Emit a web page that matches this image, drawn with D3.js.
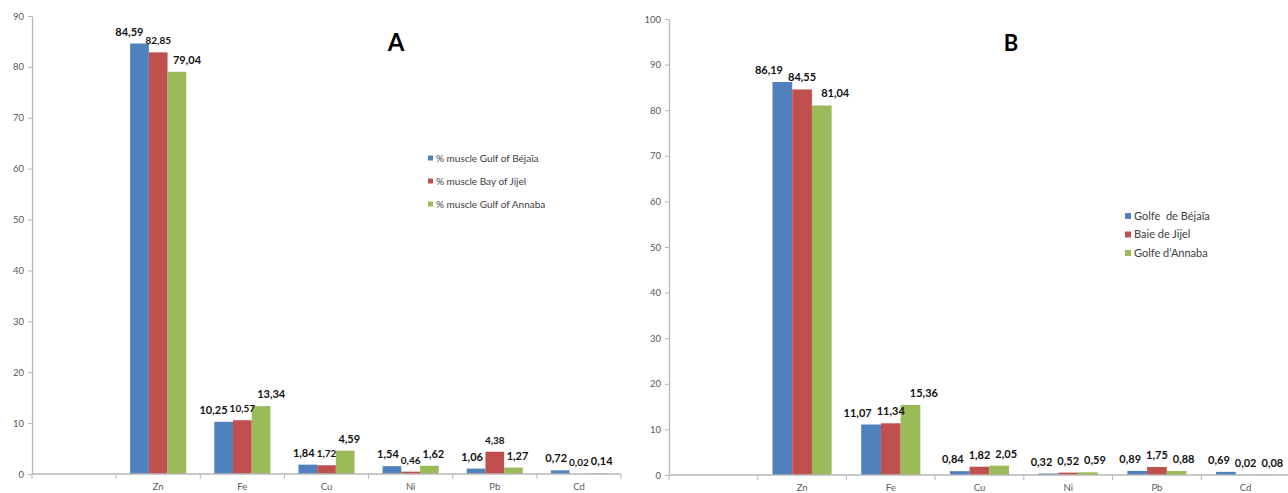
<!DOCTYPE html>
<html>
<head>
<meta charset="utf-8">
<script src="https://cdn.jsdelivr.net/npm/d3@7"></script>
<style>
  html, body { margin: 0; padding: 0; background: #fff; }
  svg { display: block; font-family: Lato, "Open Sans", sans-serif; }
</style>
</head>
<body>
<svg id="chart" width="1288" height="493"></svg>
<script>
// ---------- DATA ----------
const categories = ["", "Zn", "Fe", "Cu", "Ni", "Pb", "Cd"];

const seriesNamesA = ["% muscle Gulf of Béjaïa", "% muscle Bay of Jijel", "% muscle Gulf of Annaba"];
const valuesA_Bejaia = [null, 84.59, 10.25, 1.84, 1.54, 1.06, 0.72];
const valuesA_Jijel  = [null, 82.85, 10.57, 1.72, 0.46, 4.38, 0.02];
const valuesA_Annaba = [null, 79.04, 13.34, 4.59, 1.62, 1.27, 0.14];
const ticksA = [0, 10, 20, 30, 40, 50, 60, 70, 80, 90];

const seriesNamesB = ["Golfe  de Béjaïa", "Baie de Jijel", "Golfe d\u2019Annaba"];
const valuesB_Bejaia = [null, 86.19, 11.07, 0.84, 0.32, 0.89, 0.69];
const valuesB_Jijel  = [null, 84.55, 11.34, 1.82, 0.52, 1.75, 0.02];
const valuesB_Annaba = [null, 81.04, 15.36, 2.05, 0.59, 0.88, 0.08];
const ticksB = [0, 10, 20, 30, 40, 50, 60, 70, 80, 90, 100];

const colors = ["#4f81bd", "#c0504d", "#9bbb59"];

// ---------- DRAW ----------
const svg = d3.select("#chart");
svg.append("rect").attr("width", 1288).attr("height", 493).attr("fill", "#fff");

const fmt = v => d3.format(".2f")(v).replace(".", ",");

function panel(cfg) {
  const g = svg.append("g");
  const x = d3.scaleBand().domain(categories).range([cfg.x0, cfg.x1]).paddingInner(0).paddingOuter(0);
  const y = d3.scaleLinear().domain([0, cfg.ymax]).range([cfg.yBottom, cfg.yTop]);
  const bw = x.bandwidth() / 4.5;
  const xs = d3.scaleBand().domain([0, 1, 2]).range([0.75 * bw, 3.75 * bw]).padding(0);

  // Y axis
  const yAxis = d3.axisLeft(y).tickValues(cfg.ticks).tickSize(4).tickSizeOuter(0).tickPadding(4);
  const ya = g.append("g").attr("transform", `translate(${cfg.x0},0)`).call(yAxis);
  ya.select(".domain").attr("stroke", "#b7b7b7").attr("stroke-width", 1.3);
  ya.selectAll(".tick line").attr("stroke", "#b7b7b7");
  ya.selectAll(".tick text").attr("fill", "#595959").attr("font-size", 9.5)
    .attr("font-family", "Lato, sans-serif");

  // Bars
  const data = [];
  cfg.series.forEach((vals, si) => {
    vals.forEach((v, ci) => {
      if (v === null) return;
      data.push({ cat: categories[ci], s: si, v });
    });
  });
  g.selectAll("rect.bar").data(data).enter().append("rect")
    .attr("class", "bar")
    .attr("x", d => x(d.cat) + xs(d.s))
    .attr("width", xs.bandwidth())
    .attr("y", d => y(d.v))
    .attr("height", d => y(0) - y(d.v))
    .attr("fill", d => colors[d.s]);

  // X axis (category)
  const xa = g.append("g").attr("transform", `translate(0,${cfg.yBottom})`);
  xa.append("line").attr("x1", cfg.x0).attr("x2", cfg.x1).attr("y1", 0).attr("y2", 0)
    .attr("stroke", "#b7b7b7").attr("stroke-width", 1.3);
  const bounds = categories.map(c => x(c)).concat([cfg.x1]);
  xa.selectAll("line.tk").data(bounds).enter().append("line")
    .attr("x1", d => d).attr("x2", d => d).attr("y1", 0).attr("y2", 5)
    .attr("stroke", "#b7b7b7");
  xa.selectAll("text").data(categories).enter().append("text")
    .attr("x", d => x(d) + x.bandwidth() / 2)
    .attr("y", 16)
    .attr("text-anchor", "middle")
    .attr("fill", "#595959").attr("font-size", 9.5)
    .text(d => d);

  // Data labels
  const lab = g.selectAll("text.lab").data(data).enter().append("text")
    .attr("class", "lab")
    .attr("text-anchor", "middle")
    .attr("font-weight", "bold")
    .attr("font-size", d => cfg.labelSizes[d.s])
    .attr("fill", "#111")
    .text(d => fmt(d.v));
  // positions with simple overlap-avoidance inside each category group
  const items = [];
  lab.each(function (d) {
    items.push({
      node: this, d,
      cx: x(d.cat) + xs(d.s) + xs.bandwidth() / 2,
      by: y(d.v) - 8,
      w: this.getComputedTextLength(),
      h: 20
    });
  });
  categories.forEach(c => {
    const grp = items.filter(it => it.d.cat === c).sort((a, b) => a.d.s - b.d.s);
    for (let iter = 0; iter < 30; iter++) {
      for (let i = 0; i < grp.length; i++) {
        for (let j = i + 1; j < grp.length; j++) {
          const a = grp[i], b = grp[j];
          if (Math.abs(a.by - b.by) >= a.h) continue;
          const need = (a.w + b.w) / 2 + cfg.gap;
          const dist = b.cx - a.cx;
          if (dist < need) {
            const p = (need - dist) / 2;
            a.cx -= p; b.cx += p;
          }
        }
      }
    }
  });
  items.forEach(it => d3.select(it.node).attr("x", it.cx).attr("y", it.by));

  // Title
  g.append("text").attr("x", cfg.titleX).attr("y", 51)
    .attr("text-anchor", "middle").attr("font-weight", "bold")
    .attr("font-size", cfg.titleSize).attr("fill", "#000")
    .text(cfg.title);

  // Legend
  const lg = g.append("g");
  cfg.names.forEach((n, i) => {
    const cy = cfg.legY + i * cfg.legStep;
    lg.append("rect").attr("x", cfg.legX).attr("y", cy - cfg.legSq / 2)
      .attr("width", cfg.legSq).attr("height", cfg.legSq).attr("fill", colors[i]);
    lg.append("text").attr("x", cfg.legX + cfg.legSq + 3).attr("y", cy)
      .attr("dy", "0.35em").attr("font-size", cfg.legFont).attr("fill", "#404040")
      .attr("xml:space", "preserve").style("white-space", "pre")
      .text(n);
  });
}

panel({
  x0: 32, x1: 621, yBottom: 474, yTop: 16, ymax: 90, ticks: ticksA,
  series: [valuesA_Bejaia, valuesA_Jijel, valuesA_Annaba],
  names: seriesNamesA, labelSizes: [11, 10, 11], gap: 2,
  title: "A", titleX: 396, titleSize: 24,
  legX: 428, legY: 158, legStep: 23, legSq: 5, legFont: 10
});

panel({
  x0: 669, x1: 1290, yBottom: 475, yTop: 19, ymax: 100, ticks: ticksB,
  series: [valuesB_Bejaia, valuesB_Jijel, valuesB_Annaba],
  names: seriesNamesB, labelSizes: [11, 11, 11], gap: 5,
  title: "B", titleX: 1011, titleSize: 22,
  legX: 1125, legY: 216, legStep: 18.5, legSq: 6, legFont: 11
});
</script>
</body>
</html>
